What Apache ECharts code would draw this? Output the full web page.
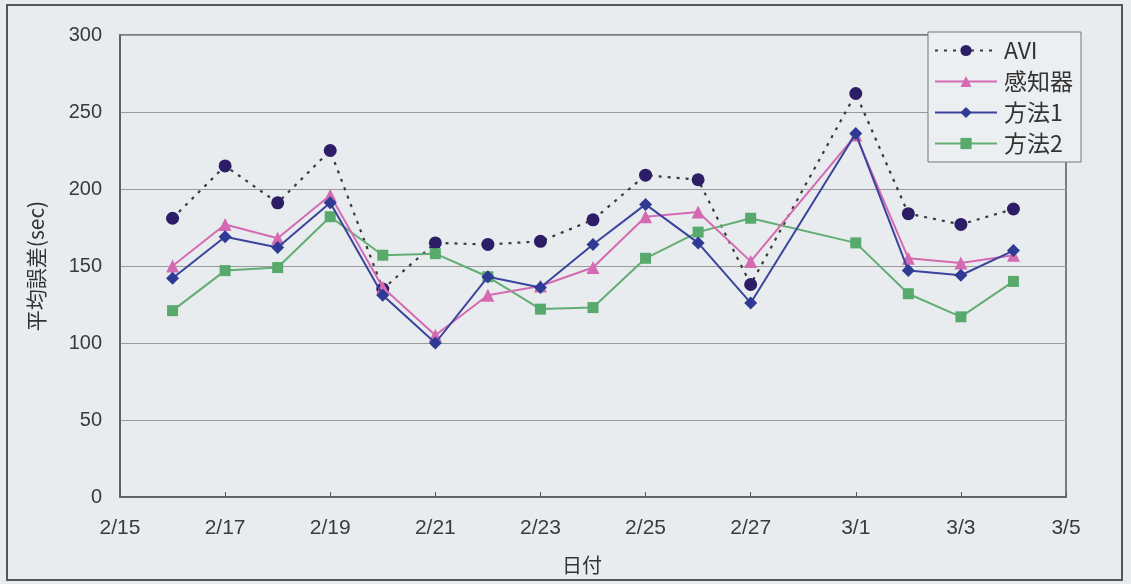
<!DOCTYPE html>
<html>
<head>
<meta charset="utf-8">
<script src="https://cdn.jsdelivr.net/npm/echarts@6/dist/echarts.min.js"></script>
<style>
  html, body { margin: 0; padding: 0; background: #e9ecee; }
  #chart { width: 1131px; height: 584px; }
</style>
</head>
<body>
<div id="chart"></div>
<script>
// Daily average error (seconds) per method
const dates = ['2/16','2/17','2/18','2/19','2/20','2/21','2/22','2/23','2/24','2/25','2/26','2/27','3/1','3/2','3/3','3/4'];
const avi    = [181, 215, 191, 225, 135, 165, 164, 166, 180, 209, 206, 138, 262, 184, 177, 187];
const sensor = [150, 177, 168, 196, 136, 105, 131, 137, 149, 182, 185, 153, 235, 155, 152, 157];
const method1 = [142, 169, 162, 191, 131, 100, 143, 136, 164, 190, 165, 126, 236, 147, 144, 160];
const method2 = [121, 147, 149, 182, 157, 158, 143, 122, 123, 155, 172, 181, 165, 132, 117, 140];
const xTickLabels = ['2/15','2/17','2/19','2/21','2/23','2/25','2/27','3/1','3/3','3/5'];
const yTicks = [0, 50, 100, 150, 200, 250, 300];

// Day offset from 2/15 (February has 28 days)
function dayOffset(md) {
  const [m, d] = md.split('/').map(Number);
  return (m === 2 ? d : 28 + d) - 15;
}
const pair = vals => dates.map((d, i) => [dayOffset(d), vals[i]]);

const chart = echarts.init(document.getElementById('chart'));
const labelFont = 'Arial, "Liberation Sans", "Noto Sans CJK JP", sans-serif';
const narrowFont = '"Liberation Sans Narrow", "Arial Narrow", Arial, sans-serif';
const cjkFont = '"Noto Sans CJK JP", Arial, sans-serif';

chart.setOption({
  backgroundColor: '#e9ecee',
  animation: false,
  grid: {
    left: 120, right: 65, top: 35, bottom: 87,
    show: true, borderColor: '#585858', borderWidth: 1.5,
    backgroundColor: 'transparent'
  },
  graphic: [{
    type: 'rect',
    shape: { x: 7, y: 5, width: 1115, height: 575 },
    style: { fill: 'none', stroke: '#555', lineWidth: 2 },
    silent: true
  }],
  legend: {
    orient: 'vertical',
    left: 928, top: 32,
    padding: [7, 8, 7, 6],
    itemGap: 8,
    itemWidth: 62, itemHeight: 14,
    borderColor: '#777', borderWidth: 1,
    backgroundColor: '#eceff1',
    textStyle: { fontSize: 23, color: '#333', fontFamily: cjkFont, padding: [0, 0, 0, 2] },
    data: ['AVI', '感知器', '方法1', '方法2']
  },
  xAxis: {
    type: 'value',
    min: 0, max: 18, interval: 2,
    name: '日付',
    nameLocation: 'middle',
    nameGap: 58,
    nameTextStyle: { fontSize: 20, color: '#333', fontFamily: cjkFont, padding: [0, 22, 0, 0] },
    axisLine: { show: true, lineStyle: { color: '#585858', width: 1.5 } },
    axisTick: { show: true, inside: true, length: 5, lineStyle: { color: '#585858' } },
    splitLine: { show: false },
    axisLabel: {
      margin: 21, fontSize: 21, color: '#3a3a3a', fontFamily: narrowFont,
      formatter: v => xTickLabels[Math.round(v / 2)] || ''
    }
  },
  yAxis: {
    type: 'value',
    min: 0, max: 300, interval: 50,
    name: '平均誤差(sec)',
    nameLocation: 'middle',
    nameGap: 73,
    nameTextStyle: { fontSize: 21, color: '#333', fontFamily: cjkFont },
    axisLine: { show: true, lineStyle: { color: '#585858', width: 1.5 } },
    axisTick: { show: false },
    splitLine: { show: true, lineStyle: { color: '#9a9a9a', width: 1 } },
    axisLabel: {
      margin: 18, fontSize: 20, color: '#3a3a3a', fontFamily: labelFont,
      formatter: v => yTicks.includes(v) ? String(v) : ''
    }
  },
  series: [
    {
      name: 'AVI', type: 'line', data: pair(avi),
      symbol: 'circle', symbolSize: 13,
      itemStyle: { color: '#2c1d66' },
      lineStyle: { color: '#3a3a3a', width: 2.2, type: [3, 6] },
      z: 2
    },
    {
      name: '感知器', type: 'line', data: pair(sensor),
      symbol: 'triangle', symbolSize: 13,
      itemStyle: { color: '#d46bb2' },
      lineStyle: { color: '#d46bb2', width: 2 },
      z: 3
    },
    {
      name: '方法1', type: 'line', data: pair(method1),
      symbol: 'diamond', symbolSize: 13,
      itemStyle: { color: '#2e3a94' },
      lineStyle: { color: '#3a449c', width: 2 },
      z: 4
    },
    {
      name: '方法2', type: 'line', data: pair(method2),
      symbol: 'rect', symbolSize: 11,
      itemStyle: { color: '#58aa6c' },
      lineStyle: { color: '#62ad74', width: 2 },
      z: 2
    }
  ]
});
</script>
</body>
</html>
